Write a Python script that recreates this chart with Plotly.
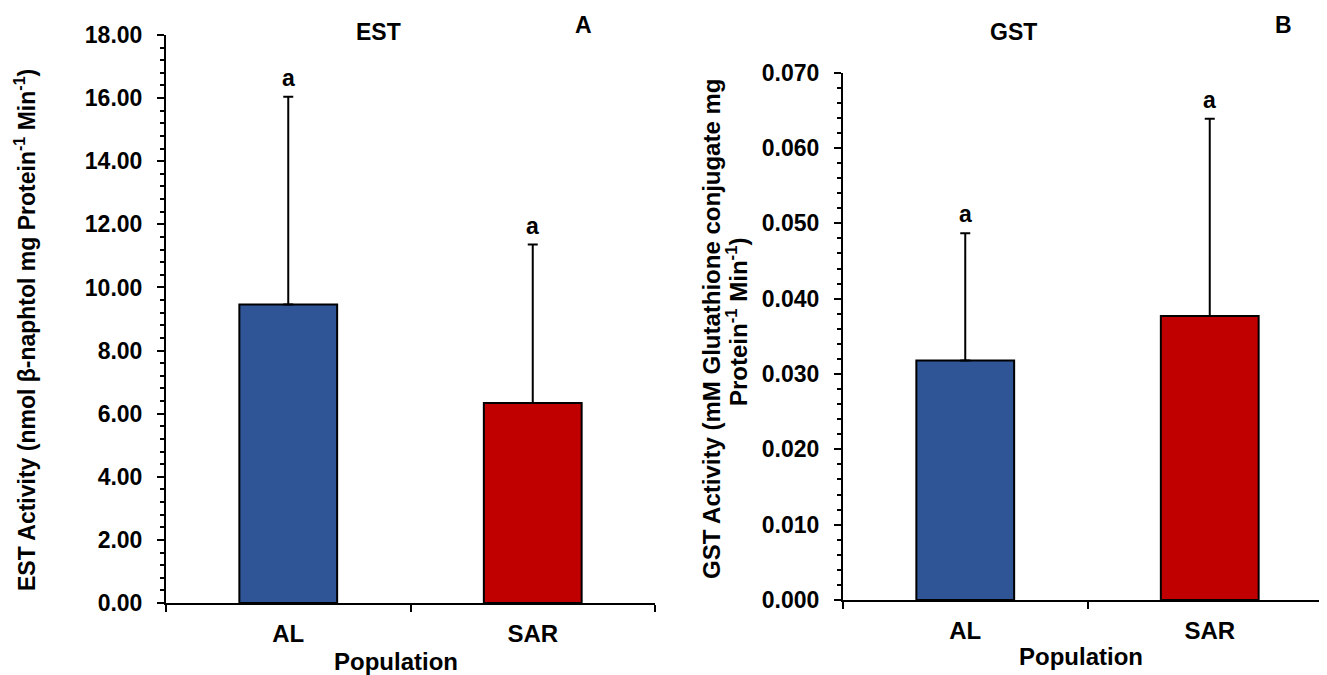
import plotly.graph_objects as go

# page body has an 8px default margin; the figure starts 8px in from the top-left
OFF = 8
W, H = 1327 - OFF, 675 - OFF

populations = ["AL", "SAR"]
est_mean = [9.46, 6.34]
est_sd = [6.58, 5.02]
gst_mean = [0.0318, 0.0377]
gst_sd = [0.0169, 0.0262]
est_letters = ["a", "a"]
gst_letters = ["a", "a"]
bar_colors = ["#2F5597", "#C00000"]

FONT = "Liberation Sans"

def px_x(p):
    return (p - OFF) / W

def px_y(p):
    return 1 - (p - OFF) / H

fig = go.Figure()

fig.add_trace(go.Bar(
    x=populations, y=est_mean, xaxis="x", yaxis="y",
    marker=dict(color=bar_colors, line=dict(color="black", width=2)),
    error_y=dict(type="data", array=est_sd, arrayminus=[0, 0], symmetric=False,
                 color="black", thickness=2, width=5),
    showlegend=False,
))
fig.add_trace(go.Bar(
    x=populations, y=gst_mean, xaxis="x2", yaxis="y2",
    marker=dict(color=bar_colors, line=dict(color="black", width=2)),
    error_y=dict(type="data", array=gst_sd, arrayminus=[0, 0], symmetric=False,
                 color="black", thickness=2, width=5),
    showlegend=False,
))

xtickfont = dict(family=FONT, size=24, color="black", weight="bold")
ytickfont = dict(family=FONT, size=23, color="black", weight="bold")

common_x = dict(showline=True, linecolor="black", linewidth=2, ticks="outside",
                tickson="boundaries", ticklen=7, tickwidth=2, tickcolor="black",
                tickfont=xtickfont, ticklabelstandoff=8, showgrid=False,
                zeroline=False, fixedrange=True, automargin=False)
common_y = dict(showline=True, linecolor="black", linewidth=2, ticks="outside",
                ticklen=7, tickwidth=2, tickcolor="black", tickfont=ytickfont,
                ticklabelstandoff=10, showgrid=False, zeroline=False,
                fixedrange=True, automargin=False)

# right panel runs off the right edge of the window in the reference
right_end = OFF + W
cat_px = 244.5
x2_max = -0.5 + (right_end - 843) / cat_px

fig.update_layout(
    width=W, height=H,
    margin=dict(l=0, r=0, t=0, b=0, pad=0, autoexpand=False),
    paper_bgcolor="white", plot_bgcolor="white",
    bargap=0.6,
    xaxis=dict(domain=[px_x(166), px_x(655)], anchor="y", range=[-0.5, 1.5], **common_x),
    yaxis=dict(domain=[px_y(603), px_y(35)], anchor="x", range=[0, 18], dtick=2,
               tickformat=".2f",
               minor=dict(dtick=0.4, ticks="outside", ticklen=4, tickwidth=2, tickcolor="black"),
               **common_y),
    xaxis2=dict(domain=[px_x(843), 1.0], anchor="y2", range=[-0.5, x2_max], **common_x),
    yaxis2=dict(domain=[px_y(600), px_y(72.7)], anchor="x2", range=[0, 0.07], dtick=0.01,
                tickformat=".3f",
                minor=dict(dtick=0.002, ticks="outside", ticklen=4, tickwidth=2, tickcolor="black"),
                **common_y),
)

ann_font = dict(family=FONT, size=23, color="black", weight="bold")
pop_font = dict(family=FONT, size=24, color="black", weight="bold")

annotations = []
# significance letters above error bars
for i, p in enumerate(populations):
    annotations.append(dict(x=p, y=est_mean[i] + est_sd[i], xref="x", yref="y",
                            text=est_letters[i], showarrow=False, xanchor="center",
                            yanchor="bottom", yshift=4, font=ann_font))
    annotations.append(dict(x=p, y=gst_mean[i] + gst_sd[i], xref="x2", yref="y2",
                            text=gst_letters[i], showarrow=False, xanchor="center",
                            yanchor="bottom", yshift=4, font=ann_font))

def paper_text(x, y, text, font, angle=0):
    return dict(x=px_x(x), y=px_y(y), xref="paper", yref="paper", text=text,
                showarrow=False, xanchor="center", yanchor="middle",
                textangle=angle, font=font)

annotations += [
    paper_text(378, 32, "EST", ann_font),
    paper_text(583, 25, "A", ann_font),
    paper_text(1013, 32, "GST", ann_font),
    paper_text(1283, 25, "B", ann_font),
    paper_text(396, 661, "Population", pop_font),
    paper_text(1081, 656, "Population", pop_font),
    paper_text(25, 330,
               "EST Activity (nmol β-naphtol mg Protein<sup>-1</sup> Min<sup>-1</sup>)",
               dict(family=FONT, size=23, color="black", weight="bold"), -90),
    paper_text(711, 329, "GST Activity (mM Glutathione conjugate mg",
               dict(family=FONT, size=24, color="black", weight="bold"), -90),
    paper_text(737, 322, "Protein<sup>-1</sup> Min<sup>-1</sup>)",
               dict(family=FONT, size=24, color="black", weight="bold"), -90),
]
fig.update_layout(annotations=annotations)

fig.write_html("out.html")
